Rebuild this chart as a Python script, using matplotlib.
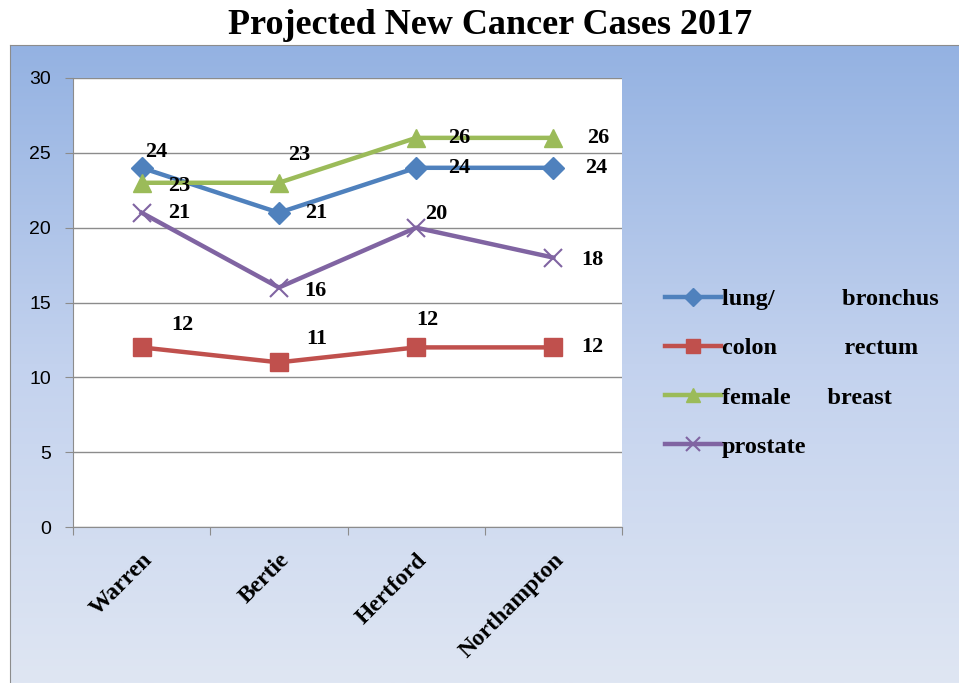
import numpy as np
import matplotlib.pyplot as plt
from matplotlib.colors import LinearSegmentedColormap

counties = ['Warren', 'Bertie', 'Hertford', 'Northampton']
lung = [24, 21, 24, 24]
colon = [12, 11, 12, 12]
breast = [23, 23, 26, 26]
prostate = [21, 16, 20, 18]
series_names = ['lung/           bronchus', 'colon           rectum', 'female      breast', 'prostate']

W, H = 959, 683
fig = plt.figure(figsize=(W / 100, H / 100), dpi=100)

# gradient chart area
bg = fig.add_axes([10 / W, 0, 1 - 10 / W, (H - 45) / H])
cmap = LinearSegmentedColormap.from_list('bg', ['#94b2e2', '#c3d2ee', '#dfe6f3'])
grad = np.linspace(0, 1, 256).reshape(-1, 1)
bg.imshow(grad, aspect='auto', cmap=cmap, extent=[0, 1, 0, 1], origin='upper')
bg.set_xticks([])
bg.set_yticks([])
for s in bg.spines.values():
    s.set_color('#8c8c8c')
bg.spines['right'].set_visible(False)
bg.spines['bottom'].set_visible(False)

fig.text(490 / W, 1 - 25 / H, 'Projected New Cancer Cases 2017', ha='center', va='center',
         family='Liberation Serif', weight='bold', fontsize=26)

ax = fig.add_axes([73 / W, (H - 527) / H, (622 - 73) / W, (527 - 78) / H])
ax.set_facecolor('white')
x = np.arange(len(counties))

styles = [
    (lung, '#4f81bd', 'D', 11),
    (colon, '#c0504d', 's', 13),
    (breast, '#9bbb59', '^', 13),
    (prostate, '#8064a2', 'x', 13),
]
for (vals, col, mk, ms), name in zip(styles, series_names):
    if mk == 'x':
        ax.plot(x, vals, color=col, lw=3.2, marker=mk, ms=ms, mew=1.5, label=name)
    else:
        ax.plot(x, vals, color=col, lw=3.2, marker=mk, ms=ms, label=name)

# label offsets in pixels (dx, dy)
offsets = {
    0: [(15, 16), (37, 0), (43, 0), (43, 0)],
    1: [(41, 22), (38, 23), (11, 27), (39, 0)],
    2: [(38, -3), (20, 28), (43, 0), (45, 0)],
    3: [(38, 0), (37, -3), (20, 14), (39, -2)],
}
for si, (vals, col, mk, ms) in enumerate(styles):
    for i, v in enumerate(vals):
        dx, dy = offsets[si][i]
        ax.annotate(str(v), (x[i], v), xytext=(dx * 0.72, dy * 0.72), textcoords='offset points',
                    ha='center', va='center', family='Liberation Serif', weight='bold', fontsize=16)

ax.set_xlim(-0.5, 3.5)
ax.set_ylim(0, 30)
ax.set_yticks(range(0, 31, 5))
ax.set_xticks(np.arange(-0.5, 3.6, 1))
ax.set_xticklabels([])
ax.set_xticks(x, minor=True)
ax.set_xticklabels(counties, minor=True, rotation=45, ha='right', rotation_mode='anchor',
                   family='Liberation Serif', weight='bold', fontsize=17)
ax.tick_params(axis='x', which='minor', length=0, pad=16)
ax.tick_params(axis='x', which='major', length=6, color='#8c8c8c', direction='out')
ax.tick_params(axis='y', length=6, color='#8c8c8c', direction='out', labelsize=14, pad=10)
for lab in ax.get_yticklabels():
    lab.set_family('Liberation Sans')
ax.grid(axis='y', color='#8c8c8c', lw=1)
ax.set_axisbelow(True)
ax.spines['top'].set_visible(False)
ax.spines['right'].set_visible(False)
ax.spines['left'].set_color('#8c8c8c')
ax.spines['bottom'].set_color('#8c8c8c')

leg = fig.legend(loc='center left', bbox_to_anchor=(643 / W, 1 - 373 / H), frameon=False,
                 prop={'family': 'Liberation Serif', 'weight': 'bold', 'size': 17.5},
                 handlelength=2.3, handletextpad=0.05, labelspacing=1.12, markerscale=0.8)

fig.savefig('out.png', dpi=100)
